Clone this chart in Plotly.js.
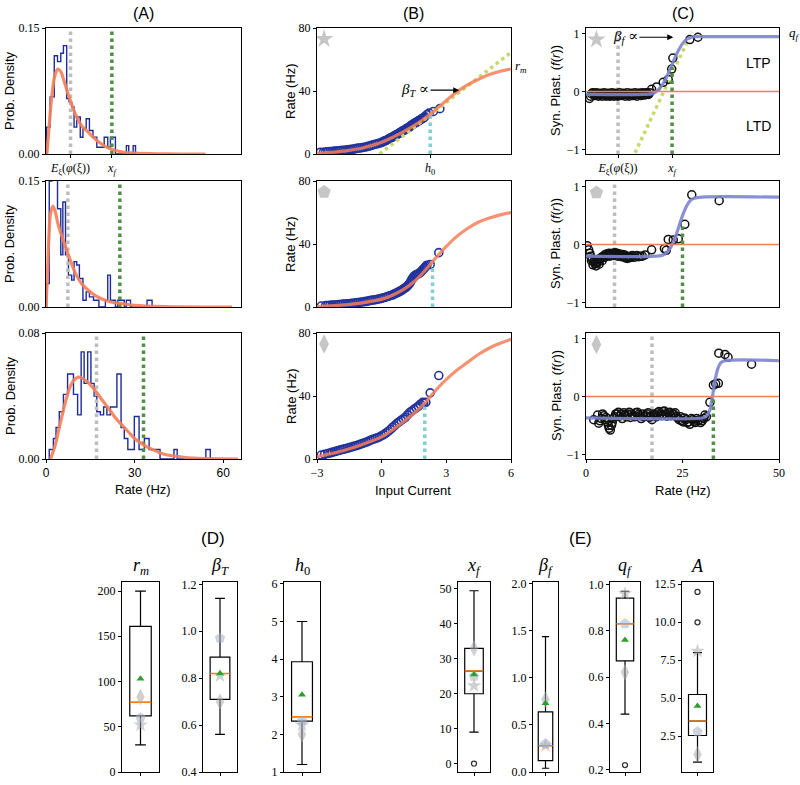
<!DOCTYPE html>
<html>
<head>
<meta charset="utf-8">
<script src="https://cdn.plot.ly/plotly-3.0.1.min.js"></script>
<style>body{margin:0;background:#fff;} #fig{width:800px;height:785px;}</style>
</head>
<body>
<div id="fig"></div>
<script>
// ---- (A) rate histograms, one per example neuron (star, pentagon, diamond) ----
var histEdges1 = [0.2,1.4,2.8,3.9,5.0,5.9,7.0,7.8,8.7,9.5,10.4,11.6,12.5,13.6,14.7,15.9,17.2,18.4,19.7,20.9,21.8,23.5,27.2,28.0,29.5,30.3];
var histDens1 = [0.032,0.068,0.117,0.110,0.120,0.129,0.066,0.062,0.056,0.032,0.044,0.020,0.030,0.042,0.028,0.020,0.008,0.008,0.020,0.008,0.020,0,0.010,0,0.010];
var histEdges2 = [0.2,1.1,2.0,3.1,3.9,5.0,5.7,6.6,7.6,8.7,9.5,10.4,11.3,12.5,13.6,14.7,16.1,17.9,20.1,20.9,21.8,23.5,24.3,26.5,27.2,28.6,34.2,35.9];
var histDens2 = [0.028,0.150,0.170,0.170,0.117,0.062,0.125,0.062,0.038,0.032,0.054,0.050,0.034,0.008,0.018,0.012,0.008,0,0.008,0.038,0.008,0,0.008,0,0.008,0,0.008];
var histEdges3 = [1.1,2.5,3.4,4.5,5.9,7.3,9.3,10.7,11.9,12.9,14.1,15.2,16.3,17.2,18.4,19.5,20.6,21.8,23.1,24.0,25.4,26.5,27.7,29.9,31.5,33.3,34.9,38.6,43.3,44.4,54.1,55.6];
var histDens3 = [0.006,0.013,0.020,0.030,0.041,0.054,0.041,0.028,0.068,0.048,0.068,0.048,0.040,0.030,0.028,0.033,0.028,0.033,0.033,0.054,0.020,0.013,0.006,0.027,0.006,0.013,0.006,0,0.006,0,0.006];

var fitRate1 = [0.3,1,2,3,4,5,6,8,10,12,14,16,18,20,22,25,30,40,54];
var fitDens1 = [0,0.03,0.07,0.093,0.101,0.098,0.088,0.066,0.047,0.034,0.027,0.020,0.014,0.009,0.006,0.003,0.001,0.0002,0];
var fitRate2 = [0,0.5,1,1.5,2.3,3,4,5,6,8,10,12,15,18,22,26,30,40,63];
var fitDens2 = [0,0.04,0.085,0.11,0.12,0.115,0.1,0.088,0.078,0.058,0.040,0.028,0.018,0.011,0.006,0.004,0.002,0.0005,0];
var fitRate3 = [1.5,3,4,5,6,7,8,9,10,11,12,14,16,18,20,22,24,26,28,30,33,36,40,45,50,65];
var fitDens3 = [0,0.008,0.016,0.024,0.032,0.039,0.045,0.049,0.051,0.052,0.0515,0.049,0.045,0.040,0.035,0.030,0.025,0.021,0.017,0.013,0.009,0.006,0.003,0.0015,0.0005,0];

// ---- (B) transfer functions: input current -> rate ----
var curIn1 = [-2.85,-2.6,-2.4,-2.2,-2.0,-1.8,-1.6,-1.4,-1.2,-1.0,-0.8,-0.6,-0.4,-0.2,0,0.1,0.2,0.3,0.4,0.5,0.6,0.7,0.8,0.9,1.0,1.1,1.2,1.3,1.4,1.5,1.6,1.7,1.8,1.9,2.0,2.2,2.4,2.7,
  -2.7,-2.5,-2.3,-2.1,-1.9,-1.7,-1.5,-1.3,-1.1,-0.9,-0.7,-0.5,-0.3,-0.1,0.05,0.15,0.25,0.35,0.45,0.55,0.65,0.75,0.85,0.95,1.05,1.15,1.25,1.35,1.45,1.55,1.65,1.75,1.85,1.95,2.1];
var rateOut1 = [1.0,1.2,1.5,1.8,2.0,2.3,2.6,3.0,3.4,3.8,4.3,5.0,5.8,6.5,7.3,8.0,8.6,9.3,10.2,10.8,11.5,12.4,13.1,14.0,14.8,15.6,16.5,17.3,18.4,19.3,20.0,21.0,21.8,22.6,23.7,26.0,27.0,28.8,
  1.1,1.4,1.6,1.9,2.2,2.4,2.9,3.1,3.7,4.1,4.6,5.3,6.2,6.9,7.8,8.4,8.9,9.8,10.4,11.2,12.0,12.6,13.6,14.5,15.1,16.2,16.8,18.0,18.8,19.8,20.6,21.2,22.3,23.0,25.0];
var curIn2 = [-2.8,-2.5,-2.3,-2.1,-1.9,-1.7,-1.5,-1.3,-1.1,-0.9,-0.7,-0.5,-0.3,-0.1,0.1,0.3,0.5,0.6,0.7,0.8,0.9,1.0,1.1,1.2,1.3,1.4,1.5,1.6,1.7,1.8,1.9,2.0,2.1,2.25,2.65,
  -2.6,-2.4,-2.2,-2.0,-1.8,-1.6,-1.4,-1.2,-1.0,-0.8,-0.6,-0.4,-0.2,0,0.2,0.4,0.55,0.65,0.75,0.85,0.95,1.05,1.15,1.25,1.35,1.45,1.55,1.65,1.75,1.85,1.95,2.05];
var rateOut2 = [0.6,1.0,1.2,1.4,1.6,1.9,2.1,2.4,2.8,3.2,3.6,4.2,4.6,5.2,5.9,6.8,7.6,8.3,9.0,9.6,10.4,11.3,12.2,13.4,15,17.5,19.5,20.5,21,22,23.5,25,26.5,27,34.5,
  0.9,1.1,1.3,1.5,1.8,2.0,2.3,2.6,3.0,3.4,3.9,4.4,4.9,5.5,6.3,7.2,8.0,8.6,9.3,10.0,10.8,11.8,12.8,14.2,16.2,18.5,20.0,20.8,21.5,22.8,24.2,25.8];
var curIn3 = [-2.8,-2.5,-2.3,-2.1,-1.9,-1.7,-1.5,-1.3,-1.1,-0.9,-0.7,-0.5,-0.3,-0.1,0.1,0.3,0.5,0.7,0.9,1.1,1.3,1.5,1.7,1.9,2.05,2.25,2.65,
  -2.65,-2.4,-2.2,-2.0,-1.8,-1.6,-1.4,-1.2,-1.0,-0.8,-0.6,-0.4,-0.2,0,0.2,0.4,0.6,0.8,1.0,1.2,1.4,1.6,1.8,1.95];
var rateOut3 = [2.5,3.5,4.2,5.0,5.8,6.4,7.2,8.0,8.8,9.8,10.8,12,13,14,15.5,17.5,20,22.5,24.5,26.5,29.5,31.5,33.5,36,36,42,53,
  3.0,3.8,4.6,5.4,6.1,6.8,7.6,8.4,9.3,10.3,11.4,12.5,13.5,14.8,16.5,18.7,21.2,23.5,25.5,28.0,30.5,32.5,34.8,35.5];

var tfCur1 = [-3,-2,-1,0,0.5,1,1.5,2,2.5,3,3.5,4,4.5,5,5.5,6];
var tfRate1 = [0.5,1.5,3.5,7.5,10.5,14,18,22.5,28,34,39.5,44,47.5,50.5,52.5,54];
var tfCur2 = [-3,-2,-1,0,0.5,1,1.5,2,2.5,3,3.5,4,4.5,5,5.5,6];
var tfRate2 = [0.3,1,2.5,5,7.5,11,16,23,31,38.5,45,50,54,56.5,58.5,60];
var tfCur3 = [-3,-2.5,-2,-1.5,-1,-0.5,0,0.5,1,1.5,2,2.5,3,3.5,4,4.5,5,5.5,6];
var tfRate3 = [1.5,3,4.5,6.5,8.8,11.3,14,18.5,23.5,29,35.5,43.5,50.5,56.5,61.5,66.5,70.5,73.5,76];

var slopeCur = [-0.1, 6];      // tangent at h0 (first neuron)
var slopeRate = [0, 64.5];

// ---- (C) synaptic plasticity f(r) ----
var plRate1 = [0.9,1.5,2,2.5,3,3.5,4,4.5,5,5.5,6,6.5,7,7.5,8,8.5,9,9.5,10,10.5,11,11.5,12,12.5,13,13.5,14,14.5,15,15.5,16,16.5,17,18.3,20,21.3,22.2,22.5,26.9,29,
  1.2,1.7,2.2,2.7,3.2,3.7,4.2,4.7,5.2,5.7,6.2,6.7,7.2,7.7,8.2,8.7,9.2,9.7,10.2,10.7,11.2,11.7,12.2,12.7,13.2,13.7,14.2,14.7,15.2,15.7,16.2];
var plF1 = [-0.12,-0.04,-0.03,-0.05,-0.04,-0.06,-0.05,-0.04,-0.06,-0.05,-0.07,-0.05,-0.04,-0.06,-0.05,-0.07,-0.05,-0.06,-0.04,-0.05,-0.06,-0.04,-0.05,-0.06,-0.04,-0.05,-0.03,-0.05,-0.04,-0.03,-0.04,-0.02,0.04,0.08,0.16,0.21,0.39,0.58,0.9,0.94,
  -0.08,-0.02,-0.07,-0.02,-0.08,-0.03,-0.08,-0.02,-0.08,-0.03,-0.08,-0.02,-0.08,-0.03,-0.08,-0.02,-0.07,-0.03,-0.08,-0.02,-0.08,-0.03,-0.07,-0.02,-0.08,-0.03,-0.07,-0.02,-0.06,-0.02,-0.05];
var plRate2 = [0.3,0.7,1.2,1.6,2.0,2.4,2.8,3.2,3.6,4.0,4.5,5.0,5.5,6.0,6.5,7.0,7.5,8.0,8.5,9.0,9.5,10.0,10.5,11.0,11.5,12.0,13.2,14.0,15.3,17.0,20.3,20.8,21.3,22.6,23.9,25.6,27.4,34.5,
  1.0,1.4,1.8,2.2,2.6,3.0,3.4,3.8,4.2,4.7,5.2,5.7,6.2,6.7,7.2,7.7,8.2,8.7,9.2,9.7,10.2,10.7,11.2,11.7,12.5,13.6,14.6];
var plF2 = [-0.02,-0.09,-0.2,-0.25,-0.3,-0.33,-0.32,-0.3,-0.27,-0.22,-0.2,-0.17,-0.16,-0.15,-0.16,-0.15,-0.14,-0.15,-0.16,-0.17,-0.17,-0.18,-0.2,-0.21,-0.2,-0.19,-0.19,-0.2,-0.18,-0.09,-0.07,-0.1,0.09,0.08,0.1,0.35,0.86,0.76,
  -0.15,-0.28,-0.35,-0.28,-0.37,-0.26,-0.34,-0.24,-0.28,-0.22,-0.21,-0.19,-0.2,-0.18,-0.19,-0.17,-0.2,-0.19,-0.21,-0.2,-0.23,-0.24,-0.23,-0.22,-0.22,-0.21,-0.2];
var plRate3 = [2.0,3.3,4.0,4.6,5.2,5.8,6.3,6.8,7.4,8.0,8.7,9.4,10.1,10.8,11.5,12.2,12.9,13.6,14.3,15.0,15.7,16.4,17.1,17.8,18.5,19.2,19.9,20.6,21.3,22.0,22.7,23.4,24.1,24.8,25.5,26.2,26.9,27.6,28.3,29.0,29.7,30.5,31.2,32.1,33.0,33.6,34.3,34.4,36.0,36.8,42.9,
  3.0,3.6,4.3,4.9,5.5,6.0,6.6,7.1,7.7,8.4,9.1,9.8,10.5,11.2,11.9,12.6,13.3,14.0,14.7,15.4,16.1,16.8,17.5,18.2,18.9,19.6,20.3,21.0,21.7,22.4,23.1,23.8,24.5,25.2,25.9,26.6,27.3,28.0,28.7,29.4,30.1,30.8];
var plF3 = [-0.4,-0.46,-0.38,-0.33,-0.36,-0.5,-0.58,-0.45,-0.35,-0.3,-0.34,-0.38,-0.32,-0.3,-0.36,-0.33,-0.28,-0.31,-0.38,-0.35,-0.3,-0.36,-0.4,-0.32,-0.28,-0.3,-0.26,-0.3,-0.28,-0.33,-0.3,-0.35,-0.4,-0.42,-0.37,-0.45,-0.48,-0.4,-0.45,-0.42,-0.45,-0.38,-0.35,-0.1,0.2,0.22,0.23,0.75,0.73,0.68,0.56,
  -0.32,-0.42,-0.3,-0.4,-0.44,-0.55,-0.5,-0.38,-0.3,-0.27,-0.3,-0.28,-0.35,-0.27,-0.3,-0.35,-0.27,-0.33,-0.3,-0.33,-0.28,-0.34,-0.3,-0.35,-0.26,-0.33,-0.25,-0.34,-0.27,-0.3,-0.28,-0.37,-0.35,-0.44,-0.4,-0.44,-0.38,-0.43,-0.38,-0.4,-0.42,-0.32];

var sigRate1 = [0,15,17,18,19,20,21,22,23,24,25,26,27,28,30,50];
var sigF1 = [-0.05,-0.05,-0.04,-0.01,0.05,0.14,0.27,0.42,0.58,0.72,0.83,0.9,0.93,0.95,0.95,0.95];
var sigRate2 = [0,18,20,21,22,23,24,25,26,27,28,30,50];
var sigF2 = [-0.2,-0.2,-0.18,-0.13,-0.04,0.1,0.3,0.5,0.66,0.76,0.8,0.82,0.82];
var sigRate3 = [0,30,31,32,32.5,33,33.5,34,34.5,35,36,50];
var sigF3 = [-0.37,-0.37,-0.35,-0.25,-0.1,0.1,0.3,0.45,0.54,0.59,0.62,0.62];

var slopePlRate = [12.7, 27.4];
var slopePlF = [-1.06, 1.03];

// per-neuron markers
var meanRate = [8.3, 7.4, 17.1];   // E_xi(phi(xi))
var xF = [22.3, 25.0, 33.0];
var fAtXf = [0.42, 0.32, 0.0];
var h0 = [2.25, 2.36, 2.0];
var rateAtH0 = [25, 27, 36];
var neuronSymbol = ['star', 'pentagon', 'diamond-tall'];

// ---- (D),(E) parameter box plots ----
var paramTitles = ['<i>r<sub>m</sub></i>', '<i>β<sub>T</sub></i>', '<i>h</i><sub>0</sub>', '<i>x<sub>f</sub></i>', '<i>β<sub>f</sub></i>', '<i>q<sub>f</sub></i>', '<i>A</i>'];
var paramLow = [30, 0.56, 1.2, 9, 0.04, 0.44, 0.8];
var paramQ1 = [62, 0.71, 2.35, 20, 0.12, 0.67, 2.55];
var paramMed = [77, 0.82, 2.47, 26.5, 0.28, 0.83, 3.5];
var paramQ3 = [161, 0.89, 3.93, 33, 0.64, 0.94, 5.25];
var paramHigh = [200, 1.14, 5.0, 49.5, 1.44, 0.97, 8.0];
var paramMean = [103, 0.82, 3.05, 25.5, 0.73, 0.76, 4.5];
var paramOutliers = [[], [], [], [0], [], [0.22], [10.0, 12.0]];
var starVals = [52, 0.81, 2.25, 22.3, 0.28, 0.96, 8.1];
var pentVals = [60, 0.97, 2.36, 25, 0.30, 0.83, 2.8];
var diamVals = [83, 0.70, 2.0, 33, 0.77, 0.62, 1.3];
var paramTicks = [[0,50,100,150,200],[0.4,0.6,0.8,1.0,1.2],[1,2,3,4,5,6],[0,10,20,30,40,50],[0,0.5,1,1.5,2],[0.2,0.4,0.6,0.8,1.0],[2.5,5,7.5,10,12.5]];
var paramRange = [[0,210],[0.4,1.21],[1,6.05],[-2.4,52],[0,2.02],[0.19,1.01],[0.15,12.65]];
var paramFmt = ['d','.1f','d','d','.1f','.1f','.1f'];

// ---------------- layout helpers ----------------
var W = 800, H = 785;
function dx(p) { return [p[0] / W, p[1] / W]; }
function dy(p) { return [1 - p[1] / H, 1 - p[0] / H]; }
function xid(n) { return n === 1 ? 'x' : 'x' + n; }
function yid(n) { return n === 1 ? 'y' : 'y' + n; }
function xkey(n) { return n === 1 ? 'xaxis' : 'xaxis' + n; }
function ykey(n) { return n === 1 ? 'yaxis' : 'yaxis' + n; }

var SERIF = "'Liberation Serif', 'DejaVu Serif', serif";
var SANS = "'Liberation Sans', Arial, sans-serif";
var tickFont = {family: SERIF, size: 12, color: '#000'};

var C_HIST = '#1c2c9c', C_FIT = '#f47e58', C_DOT = '#22339e', C_SIG = '#7d84d2';
var C_GRAY = '#bdbdbd', C_GREEN = '#4f8f46', C_CYAN = '#7fd0d2', C_YG = '#c8d86c', C_MARK = '#c6c6c6';

var axBase = {showline: true, mirror: true, linecolor: '#000', linewidth: 1, ticks: 'outside', ticklen: 3,
  tickcolor: '#000', showgrid: false, zeroline: false, fixedrange: true, tickfont: tickFont};

function ax(extra) { return Object.assign({}, axBase, extra); }

function line(x, y, n, color, width, dash, extra) {
  return Object.assign({type: 'scatter', mode: 'lines', x: x, y: y, xaxis: xid(n), yaxis: yid(n),
    line: {color: color, width: width, dash: dash || 'solid'}, hoverinfo: 'skip', showlegend: false}, extra || {});
}
function pts(x, y, n, marker) {
  return {type: 'scatter', mode: 'markers', x: x, y: y, xaxis: xid(n), yaxis: yid(n),
    marker: marker, hoverinfo: 'skip', showlegend: false};
}

var colX = [[46, 241], [317, 511], [586, 779]];
var rowY = [[28, 154], [181, 307], [333, 459]];

var histEdges = [histEdges1, histEdges2, histEdges3];
var histDens = [histDens1, histDens2, histDens3];
var fitRate = [fitRate1, fitRate2, fitRate3];
var fitDens = [fitDens1, fitDens2, fitDens3];
var curIn = [curIn1, curIn2, curIn3];
var rateOut = [rateOut1, rateOut2, rateOut3];
var tfCur = [tfCur1, tfCur2, tfCur3];
var tfRate = [tfRate1, tfRate2, tfRate3];
var plRate = [plRate1, plRate2, plRate3];
var plF = [plF1, plF2, plF3];
var sigRate = [sigRate1, sigRate2, sigRate3];
var sigF = [sigF1, sigF2, sigF3];
var densTop = [0.15, 0.15, 0.08];

var traces = [];
var layout = {width: W, height: H, margin: {l: 0, r: 0, t: 0, b: 0}, paper_bgcolor: '#fff', plot_bgcolor: '#fff',
  showlegend: false, annotations: []};

function note(text, px, py, size, extra) {
  layout.annotations.push(Object.assign({text: text, x: px / W, y: 1 - py / H, xref: 'paper', yref: 'paper',
    showarrow: false, xanchor: 'center', yanchor: 'middle', font: {family: SANS, size: size, color: '#000'}}, extra || {}));
}

var eLabel = '<i>E</i><sub>ξ</sub>(<i>φ</i>(ξ))';

for (var r = 0; r < 3; r++) {
  var nA = r * 3 + 1, nB = r * 3 + 2, nC = r * 3 + 3;
  var last = r === 2;

  // (A)
  var hx = [histEdges[r][0]].concat(histEdges[r]);
  var hy = [0].concat(histDens[r], [0]);
  traces.push(line(hx, hy, nA, C_HIST, 1.4, 'solid', {line: {color: C_HIST, width: 1.4, shape: 'hv'}}));
  traces.push(line([meanRate[r], meanRate[r]], [0, densTop[r]], nA, C_GRAY, 3.5, 'dot'));
  traces.push(line([xF[r], xF[r]], [0, densTop[r]], nA, C_GREEN, 3.5, 'dot'));
  traces.push(line(fitRate[r], fitDens[r], nA, C_FIT, 3.2, 'solid', {line: {color: C_FIT, width: 3.2, shape: 'spline'}, opacity: 0.9}));

  var xa = {domain: dx(colX[0]), anchor: yid(nA), range: [0, 66]};
  if (r === 0) { xa.tickvals = [meanRate[0], xF[0]]; xa.ticktext = [eLabel, '<i>x<sub>f</sub></i>']; }
  else if (last) { xa.tickvals = [0, 30, 60]; xa.tickfont = {family: SANS, size: 12, color: '#000'}; }
  else { xa.showticklabels = false; xa.ticks = ''; }
  layout[xkey(nA)] = ax(xa);
  layout[ykey(nA)] = ax({domain: dy(rowY[r]), anchor: xid(nA), range: [0, densTop[r]],
    tickvals: [0, densTop[r]], tickformat: '.2f'});

  // (B)
  traces.push(pts(curIn[r], rateOut[r], nB, {symbol: 'circle-open', size: 8, color: C_DOT, line: {width: 1.6, color: C_DOT}}));
  if (r === 0) traces.push(line(slopeCur, slopeRate, nB, C_YG, 3.5, 'dot'));
  traces.push(line([h0[r], h0[r]], [0, rateAtH0[r]], nB, C_CYAN, 3.5, 'dot'));
  traces.push(line(tfCur[r], tfRate[r], nB, C_FIT, 3.2, 'solid', {line: {color: C_FIT, width: 3.2, shape: 'spline'}, opacity: 0.85}));
  traces.push(pts([-2.67], [73], nB, {symbol: neuronSymbol[r], size: 14, color: C_MARK}));

  var xb = {domain: dx(colX[1]), anchor: yid(nB), range: [-3, 6]};
  if (r === 0) { xb.tickvals = [h0[0]]; xb.ticktext = ['<i>h</i><sub>0</sub>']; }
  else if (last) { xb.tickvals = [-3, 0, 3, 6]; xb.ticktext = ['−3', '0', '3', '6']; }
  else { xb.showticklabels = false; xb.ticks = ''; }
  layout[xkey(nB)] = ax(xb);
  layout[ykey(nB)] = ax({domain: dy(rowY[r]), anchor: xid(nB), range: [0, 80], tickvals: [0, 40, 80]});

  // (C)
  traces.push(line([meanRate[r], meanRate[r]], [-1.08, 1.1], nC, C_GRAY, 3.5, 'dot'));
  if (r === 0) traces.push(line(slopePlRate, slopePlF, nC, C_YG, 3.5, 'dot'));
  traces.push(pts(plRate[r], plF[r], nC, {symbol: 'circle-open', size: 8, color: '#111', line: {width: 1.5, color: '#111'}}));
  traces.push(line(sigRate[r], sigF[r], nC, C_SIG, 3.2, 'solid', {line: {color: C_SIG, width: 3.2, shape: 'spline'}, opacity: 0.9}));
  traces.push(line([0, 50], [0, 0], nC, C_FIT, 1.5));
  traces.push(line([xF[r], xF[r]], [-1.08, fAtXf[r]], nC, C_GREEN, 3.5, 'dot'));
  traces.push(pts([2.7], [0.9], nC, {symbol: neuronSymbol[r], size: 14, color: C_MARK}));

  var xc = {domain: dx(colX[2]), anchor: yid(nC), range: [0, 50]};
  if (r === 0) { xc.tickvals = [meanRate[0], xF[0]]; xc.ticktext = [eLabel, '<i>x<sub>f</sub></i>']; }
  else if (last) { xc.tickvals = [0, 25, 50]; }
  else { xc.showticklabels = false; xc.ticks = ''; }
  layout[xkey(nC)] = ax(xc);
  layout[ykey(nC)] = ax({domain: dy(rowY[r]), anchor: xid(nC), range: [-1.08, 1.1],
    tickvals: [-1, 0, 1], ticktext: ['−1', '0', '1']});

  var cy = (rowY[r][0] + rowY[r][1]) / 2;
  note('Prob. Density', 10, cy, 13, {textangle: -90});
  note('Rate (Hz)', 291, cy, 13, {textangle: -90});
  note('Syn. Plast. (<i>f</i>(<i>r</i>))', 556, cy, 13, {textangle: -90});
}

// panel letters and x titles
note('(A)', 143, 14, 16);
note('(B)', 413, 14, 16);
note('(C)', 683, 14, 16);
note('Rate (Hz)', 143, 489, 13);
note('Input Current', 413, 490, 13);
note('Rate (Hz)', 683, 490, 13);
note('LTP', 758, 63, 14);
note('LTD', 758, 126, 14);
note('<i>r<sub>m</sub></i>', 513, 67, 13, {xanchor: 'left', font: {family: SERIF, size: 13, color: '#000'}});
note('<i>q<sub>f</sub></i>', 787, 34, 13, {xanchor: 'left', font: {family: SERIF, size: 13, color: '#000'}});

layout.annotations.push({text: '<i>β<sub>T</sub></i> ∝', x: 3.6, y: 40.5, xref: 'x2', yref: 'y2', showarrow: true,
  ax: 1.55, ay: 40.5, axref: 'x2', ayref: 'y2', arrowhead: 2, arrowsize: 1, arrowwidth: 1.2, arrowcolor: '#000',
  font: {family: SERIF, size: 15, color: '#000'}});
layout.annotations.push({text: '<i>β<sub>f</sub></i> ∝', x: 22.6, y: 0.94, xref: 'x3', yref: 'y3', showarrow: true,
  ax: 10.2, ay: 0.94, axref: 'x3', ayref: 'y3', arrowhead: 2, arrowsize: 1, arrowwidth: 1.2, arrowcolor: '#000',
  font: {family: SERIF, size: 15, color: '#000'}});

// ---------------- box plots ----------------
var boxX = [[122, 159], [203, 237], [284, 320], [458, 490], [533, 558], [610, 640], [682, 713]];
var boxY = [582, 772];
for (var i = 0; i < 7; i++) {
  var n = 10 + i;
  traces.push({type: 'box', orientation: 'v', x: [0], q1: [paramQ1[i]], median: [paramMed[i]], q3: [paramQ3[i]],
    lowerfence: [paramLow[i]], upperfence: [paramHigh[i]], width: 0.58, whiskerwidth: 0.5, boxpoints: false,
    line: {color: '#000', width: 1.2}, fillcolor: 'rgba(0,0,0,0)', xaxis: xid(n), yaxis: yid(n), hoverinfo: 'skip', showlegend: false});
  traces.push(pts([0], [starVals[i]], n, {symbol: 'star', size: 11, color: 'rgba(170,170,175,0.55)'}));
  traces.push(pts([0], [pentVals[i]], n, {symbol: 'pentagon', size: 11, color: 'rgba(165,175,195,0.55)'}));
  traces.push(pts([0], [diamVals[i]], n, {symbol: 'diamond-tall', size: 12, color: 'rgba(170,170,175,0.55)'}));
  traces.push({type: 'box', orientation: 'v', x: [0], q1: [paramMed[i]], median: [paramMed[i]], q3: [paramMed[i]],
    lowerfence: [paramMed[i]], upperfence: [paramMed[i]], width: 0.58, whiskerwidth: 1, boxpoints: false,
    line: {color: '#ff7f0e', width: 1.4}, fillcolor: 'rgba(0,0,0,0)', xaxis: xid(n), yaxis: yid(n), hoverinfo: 'skip', showlegend: false});
  traces.push(pts([0], [paramMean[i]], n, {symbol: 'triangle-up', size: 7, color: '#2ca02c'}));
  if (paramOutliers[i].length) {
    traces.push(pts(paramOutliers[i].map(function () { return 0; }), paramOutliers[i], n,
      {symbol: 'circle-open', size: 5, color: '#333', line: {width: 1.3, color: '#333'}}));
  }
  layout[xkey(n)] = ax({domain: dx(boxX[i]), anchor: yid(n), range: [-0.5, 0.5], tickvals: [0], showticklabels: false});
  layout[ykey(n)] = ax({domain: dy(boxY), anchor: xid(n), range: paramRange[i], tickvals: paramTicks[i], tickformat: paramFmt[i]});
  note(paramTitles[i], (boxX[i][0] + boxX[i][1]) / 2, 566, 18, {font: {family: SERIF, size: 18, color: '#000'}});
}
note('(D)', 213, 538, 17);
note('(E)', 580, 538, 17);

Plotly.newPlot('fig', traces, layout, {staticPlot: true, displayModeBar: false});
</script>
</body>
</html>
